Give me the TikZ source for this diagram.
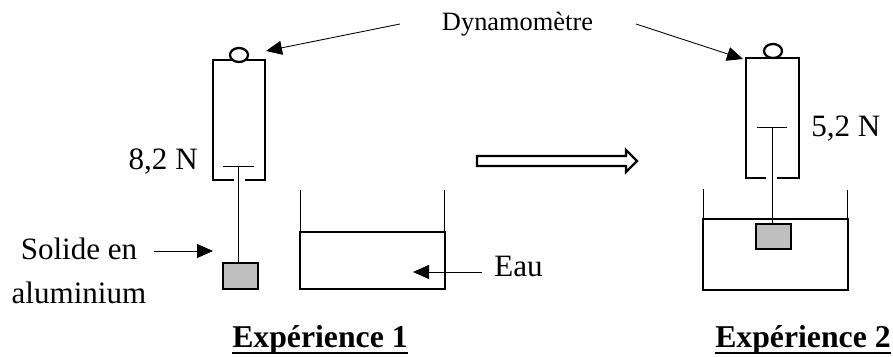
\documentclass[tikz,border=0pt]{standalone}
\usepackage{fontspec}
\setmainfont{Liberation Serif}
\usetikzlibrary{arrows.meta}

\tikzset{
  thickline/.style={line width=1.7pt},
  thinline/.style={line width=.65pt},
  solide/.style={thickline,fill=black!25},
  fleche/.style={thinline,-{Triangle[length=12pt,width=10.5pt]}},
  texte/.style={anchor=base,inner sep=0pt,font=\fontsize{23.3}{28}\selectfont},
  titre/.style={anchor=base,inner sep=0pt,font=\fontsize{23.8}{28}\selectfont\bfseries},
}

\begin{document}
\begin{tikzpicture}[x=.75pt,y=-.75pt]
\useasboundingbox (0,0) rectangle (893,357);

% Experience 1
\draw[thickline] (234,180) -- (213,180) -- (213,60) -- (265,60) -- (265,180) -- (245,180);
\draw[thickline,fill=white] (239,55) ellipse (9 and 7);
\draw[thinline] (223,166) -- (254,166);
\node[solide,draw,minimum width=26.2pt,minimum height=19.5pt,inner sep=0pt] (solide1) at (240.5,276) {};
\coordinate (haut1) at (238.5,166);
\draw[thinline] (haut1) -- (haut1 |- solide1.north);

\draw[thinline] (300.5,190) -- (300.5,232);
\draw[thinline] (444.5,190) -- (444.5,232);
\node[thickline,draw,minimum width=108.5pt,minimum height=42.8pt,inner sep=0pt] (eau1) at (372.3,260.5) {};

% Experience 2
\draw[thickline] (766,178) -- (746,178) -- (746,58) -- (799,58) -- (799,178) -- (777,178);
\draw[thickline,fill=white] (773,51) ellipse (9 and 7);
\draw[thinline] (757,127) -- (787,127);
\node[thickline,draw,minimum width=108.5pt,minimum height=53.2pt,inner sep=0pt] (eau2) at (775.5,254.5) {};
\node[solide,draw,minimum width=26.2pt,minimum height=18.8pt,inner sep=0pt] (solide2) at (773.5,236.5) {};
\coordinate (haut2) at (772.5,127);
\draw[thinline] (haut2) -- (haut2 |- solide2.north);
\draw[thinline] (703.5,189) -- (703.5,219);
\draw[thinline] (847.5,190) -- (847.5,219);

% textes
\node[texte,font=\fontsize{19.8}{24}\selectfont] (dyna) at (517.5,31) {Dynamomètre};
\node[texte,anchor=base east] (val1) at (198,169) {8,2 N};
\node[texte,anchor=base west] (val2) at (811,136) {5,2 N};
\node[texte] (sol) at (79,259) {Solide en};
\node[texte] (alu) at (79,303) {aluminium};
\node[texte,anchor=base west] (eau) at (494,276) {Eau};
\node[titre] (exp1) at (320,347) {Expérience 1};
\node[titre] (exp2) at (803,347) {Expérience 2};
\draw[thickline] ([yshift=-4.5pt]exp1.base west) -- ([yshift=-4.5pt]exp1.base east);
\draw[thickline] ([yshift=-4.5pt]exp2.base west) -- ([yshift=-4.5pt]exp2.base east);

% fleches
\coordinate (bout1) at (266,51);
\coordinate (bout2) at (743,59);
\coordinate (depart1) at (400,24);
\coordinate (depart2) at (636,24);
\coordinate (soldeb) at (154,251);
\coordinate (solfin) at (213,251);
\coordinate (eaudeb) at (482,272);
\coordinate (eaufin) at (413,272);
\draw[fleche] (depart1) -- (bout1);
\draw[fleche] (depart2) -- (bout2);
\draw[fleche] (soldeb) -- (solfin);
\draw[fleche] (eaudeb) -- (eaufin);

% passage
\draw[thickline,line join=miter] (477,156) -- (626,156) -- (626,150) -- (637,161) -- (626,172) -- (626,166) -- (477,166) -- cycle;
\end{tikzpicture}
\end{document}
